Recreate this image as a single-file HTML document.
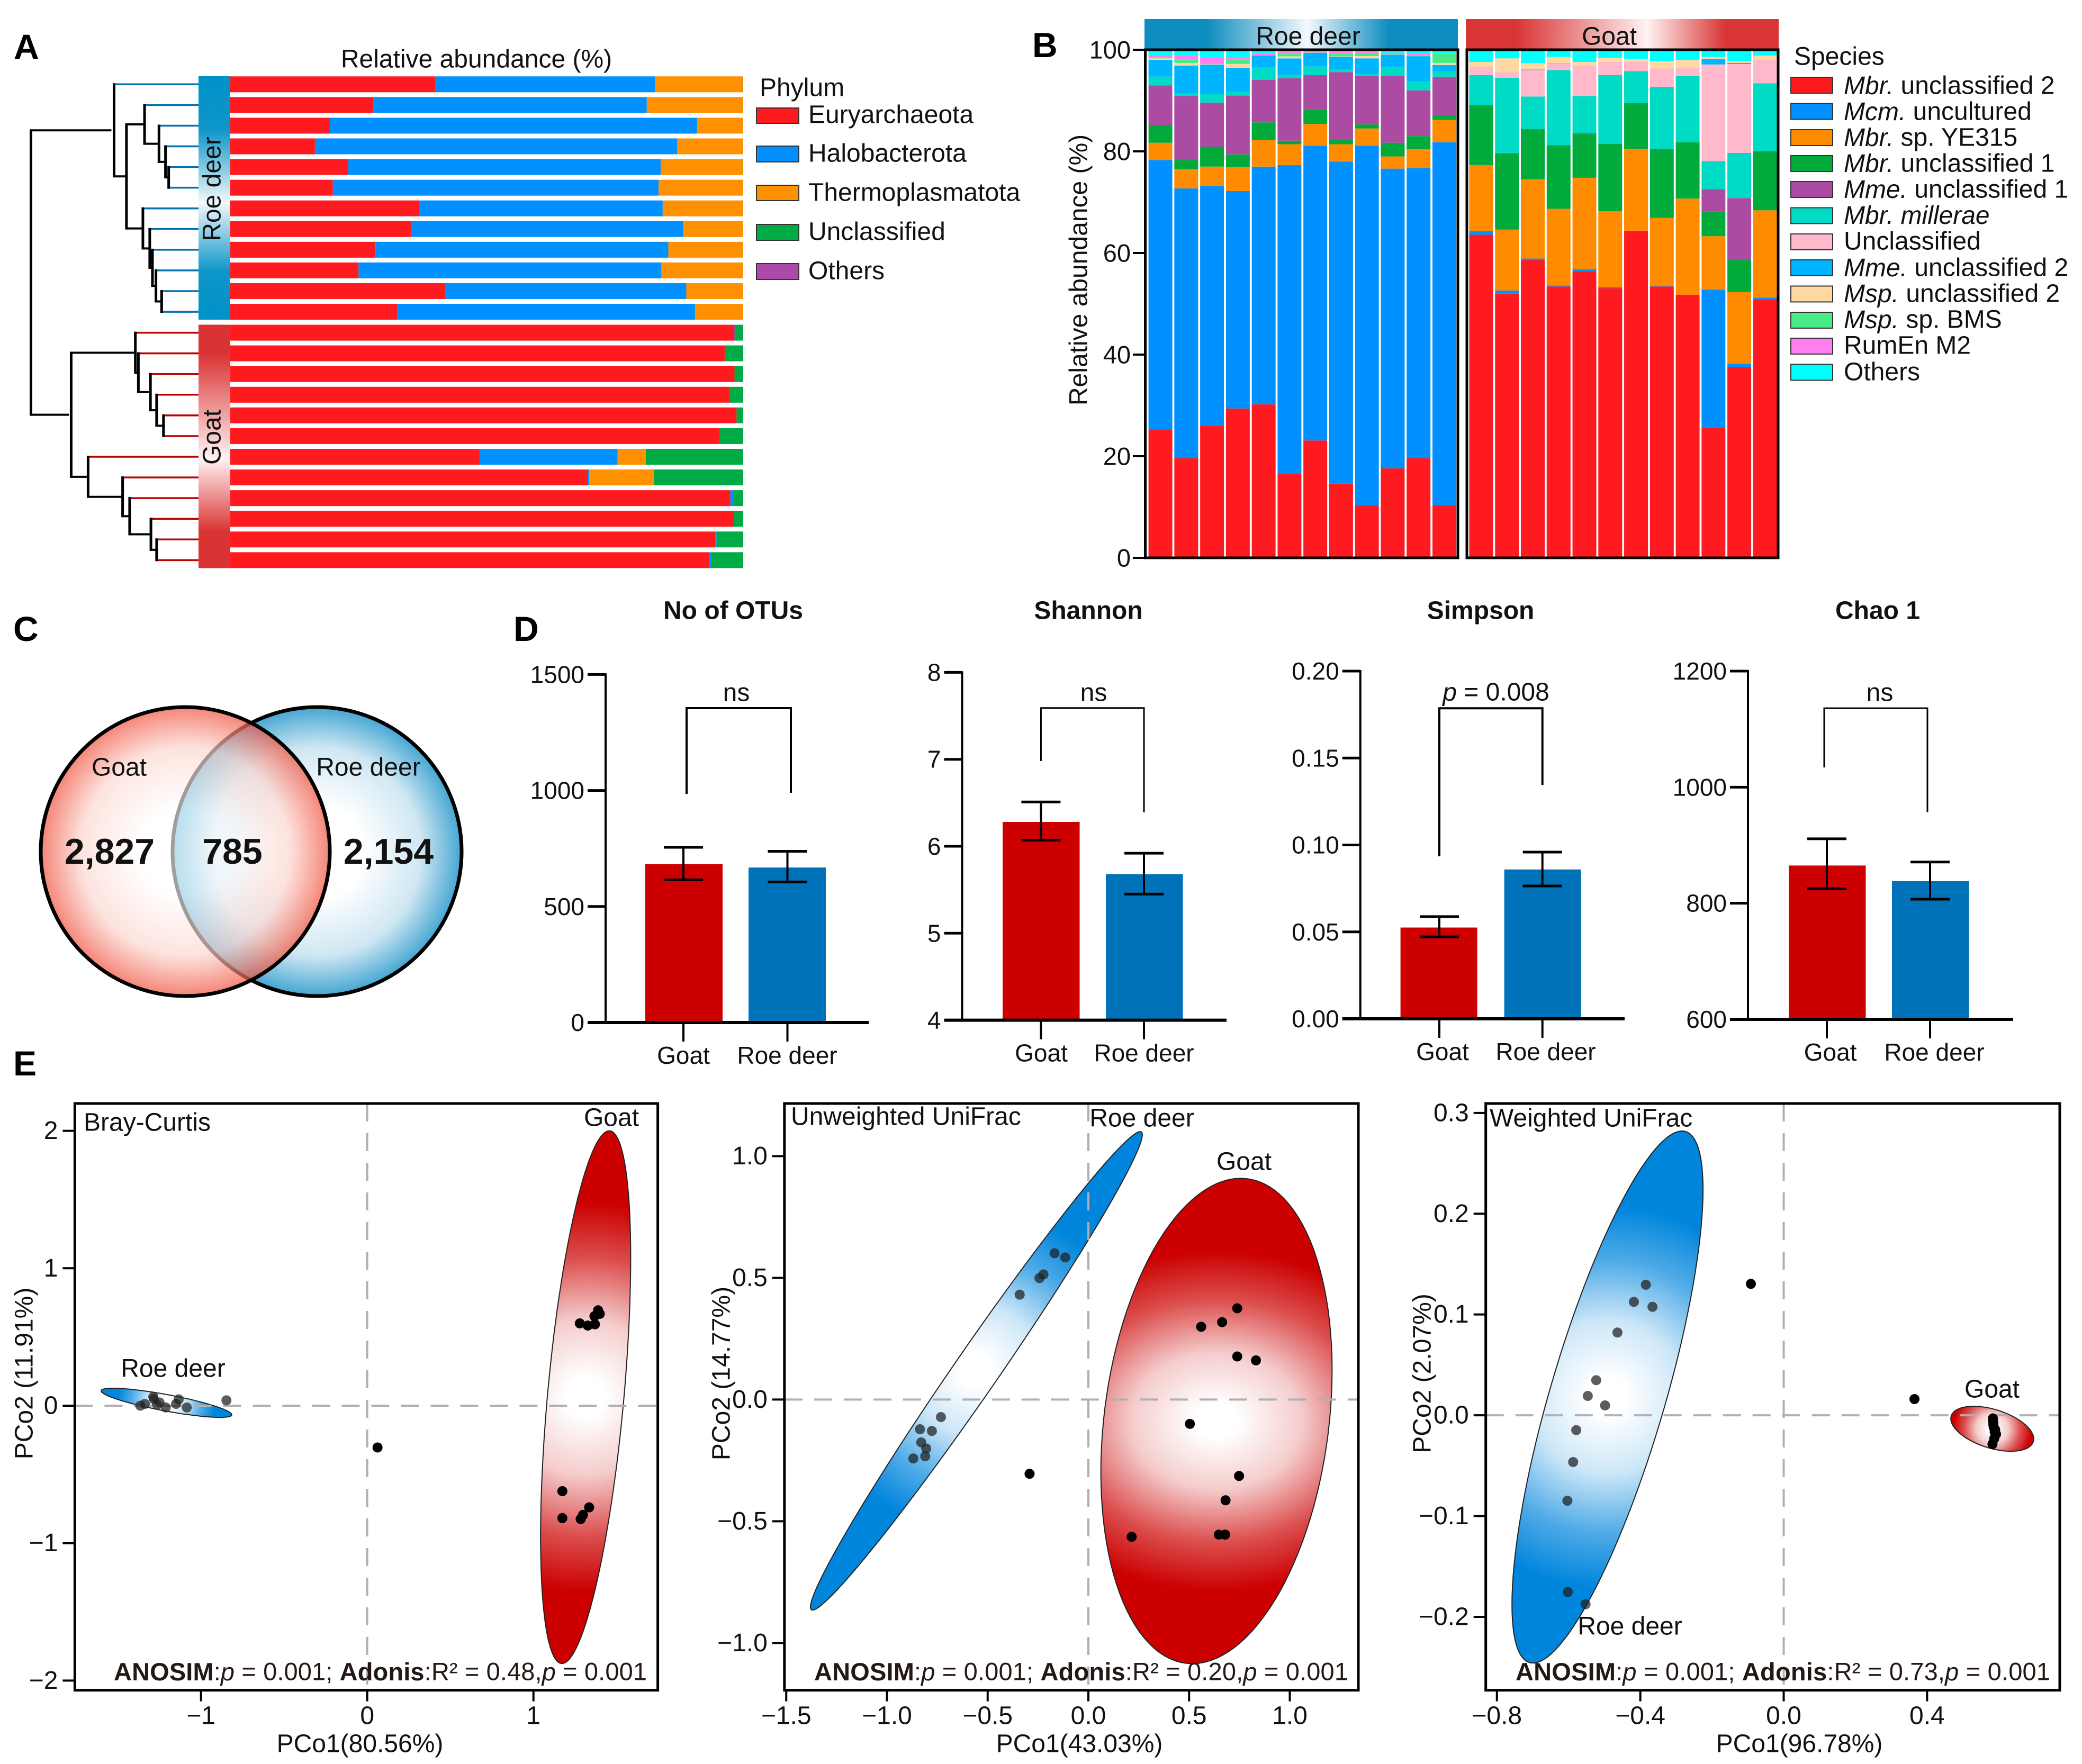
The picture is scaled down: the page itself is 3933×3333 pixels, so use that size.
<!DOCTYPE html>
<html lang="en">
<head>
<meta charset="utf-8">
<title>Archaeal community composition, goat and roe deer</title>
<style>
html,body{margin:0;padding:0;background:#fff;}
svg{display:block;font-family:"Liberation Sans",Arial,sans-serif;}
text{fill:#111;dominant-baseline:central;}
.panel-letter{font-size:66px;font-weight:700;dominant-baseline:auto;fill:#000;}
.t48{font-size:48px;}
.stats{font-size:47px;fill:#231815;}
</style>
</head>
<body>
<svg id="figure" xmlns="http://www.w3.org/2000/svg" width="3933" height="3333" viewBox="0 0 3933 3333">
<defs>
  <linearGradient id="strip-roe" x1="0" y1="0" x2="0" y2="1">
    <stop offset="0" stop-color="#0092C7"/><stop offset=".22" stop-color="#0E96C9"/><stop offset=".52" stop-color="#F2F8FB"/><stop offset=".8" stop-color="#0E96C9"/><stop offset="1" stop-color="#0092C7"/>
  </linearGradient>
  <linearGradient id="strip-goat" x1="0" y1="0" x2="0" y2="1">
    <stop offset="0" stop-color="#DA3333"/><stop offset=".12" stop-color="#DA3333"/><stop offset=".55" stop-color="#FFF3F3"/><stop offset=".85" stop-color="#DA3333"/><stop offset="1" stop-color="#DA3333"/>
  </linearGradient>
  <linearGradient id="head-roe" x1="0" y1="0" x2="1" y2="0">
    <stop offset="0" stop-color="#0E8DC0"/><stop offset=".2" stop-color="#0E8DC0"/><stop offset=".52" stop-color="#F4F9FC"/><stop offset=".78" stop-color="#0E8DC0"/><stop offset="1" stop-color="#0E8DC0"/>
  </linearGradient>
  <linearGradient id="head-goat" x1="0" y1="0" x2="1" y2="0">
    <stop offset="0" stop-color="#DA3535"/><stop offset=".16" stop-color="#DA3535"/><stop offset=".58" stop-color="#FFF2F2"/><stop offset=".83" stop-color="#DA3535"/><stop offset="1" stop-color="#DA3535"/>
  </linearGradient>
  <radialGradient id="venn-left">
    <stop offset="0" stop-color="#fff" stop-opacity=".62"/><stop offset=".3" stop-color="#fff" stop-opacity=".62"/><stop offset=".72" stop-color="#FCD5CE" stop-opacity=".68"/><stop offset="1" stop-color="#F05541" stop-opacity=".72"/>
  </radialGradient>
  <radialGradient id="venn-right">
    <stop offset="0" stop-color="#fff"/><stop offset=".32" stop-color="#fff"/><stop offset=".72" stop-color="#CFE7F3"/><stop offset="1" stop-color="#45A6D3"/>
  </radialGradient>
</defs>

<rect x="0" y="0" width="3933" height="3333" fill="#fff"/>

<!-- Panel letters -->
<text class="panel-letter" x="26" y="111">A</text>
<text class="panel-letter" x="1950" y="108">B</text>
<text class="panel-letter" x="25" y="1211">C</text>
<text class="panel-letter" x="970" y="1211">D</text>
<text class="panel-letter" x="25" y="2032">E</text>

<!-- Panel A static -->
<g id="panel-a">
  <text class="t48" x="900" y="112" text-anchor="middle">Relative abundance (%)</text>
  <rect x="375" y="144" width="60" height="460" fill="url(#strip-roe)"/>
  <rect x="375" y="613.5" width="60" height="460" fill="url(#strip-goat)"/>
  <text class="t48" transform="translate(401 357) rotate(-90)" text-anchor="middle">Roe deer</text>
  <text class="t48" transform="translate(401 826) rotate(-90)" text-anchor="middle">Goat</text>
  <g>
    <text class="t48" x="1435" y="166">Phylum</text>
    <g><rect x="1429" y="204" width="80" height="29" fill="#FF1A1F" stroke="#333" stroke-width="2"/><text class="t48" x="1527" y="217">Euryarchaeota</text></g>
    <g><rect x="1429" y="276" width="80" height="30" fill="#0090FF" stroke="#333" stroke-width="2"/><text class="t48" x="1527" y="290">Halobacterota</text></g>
    <g><rect x="1429" y="350" width="80" height="29" fill="#FF9000" stroke="#333" stroke-width="2"/><text class="t48" x="1527" y="364">Thermoplasmatota</text></g>
    <g><rect x="1429" y="424" width="80" height="30" fill="#00AB45" stroke="#333" stroke-width="2"/><text class="t48" x="1527" y="438">Unclassified</text></g>
    <g><rect x="1429" y="498" width="80" height="30" fill="#AB4BA8" stroke="#333" stroke-width="2"/><text class="t48" x="1527" y="512">Others</text></g>
  </g>
</g>

<!-- Panel B static -->
<g id="panel-b">
  <rect x="2162" y="36" width="592" height="56" fill="url(#head-roe)"/>
  <rect x="2769" y="36" width="591" height="56" fill="url(#head-goat)"/>
  <text class="t48" x="2471" y="69" text-anchor="middle">Roe deer</text>
  <text class="t48" x="3040" y="69" text-anchor="middle">Goat</text>
  <text class="t48" transform="translate(2038 510) rotate(-90)" text-anchor="middle">Relative abundance (%)</text>
  <g>
    <text class="t48" x="3389" y="107">Species</text>
    <g><rect x="3383" y="146" width="79" height="30" fill="#FF1A1F" stroke="#333" stroke-width="2"/><text class="t48" x="3483" y="162"><tspan font-style="italic">Mbr.</tspan> unclassified 2</text></g>
    <g><rect x="3383" y="195.5" width="79" height="30" fill="#0090FF" stroke="#333" stroke-width="2"/><text class="t48" x="3483" y="211"><tspan font-style="italic">Mcm.</tspan> uncultured</text></g>
    <g><rect x="3383" y="245" width="79" height="30" fill="#FF8C00" stroke="#333" stroke-width="2"/><text class="t48" x="3483" y="260"><tspan font-style="italic">Mbr.</tspan> sp. YE315</text></g>
    <g><rect x="3383" y="294" width="79" height="30" fill="#00AB3C" stroke="#333" stroke-width="2"/><text class="t48" x="3483" y="309"><tspan font-style="italic">Mbr.</tspan> unclassified 1</text></g>
    <g><rect x="3383" y="343" width="79" height="30" fill="#AB4BA1" stroke="#333" stroke-width="2"/><text class="t48" x="3483" y="358"><tspan font-style="italic">Mme.</tspan> unclassified 1</text></g>
    <g><rect x="3383" y="392.5" width="79" height="30" fill="#00DBC6" stroke="#333" stroke-width="2"/><text class="t48" x="3483" y="407"><tspan font-style="italic">Mbr. millerae</tspan></text></g>
    <g><rect x="3383" y="442" width="79" height="30" fill="#FFB9CA" stroke="#333" stroke-width="2"/><text class="t48" x="3483" y="456">Unclassified</text></g>
    <g><rect x="3383" y="491" width="79" height="30" fill="#00B5FF" stroke="#333" stroke-width="2"/><text class="t48" x="3483" y="506"><tspan font-style="italic">Mme.</tspan> unclassified 2</text></g>
    <g><rect x="3383" y="540.5" width="79" height="30" fill="#FFD7A0" stroke="#333" stroke-width="2"/><text class="t48" x="3483" y="555"><tspan font-style="italic">Msp.</tspan> unclassified 2</text></g>
    <g><rect x="3383" y="590" width="79" height="30" fill="#47EC86" stroke="#333" stroke-width="2"/><text class="t48" x="3483" y="604"><tspan font-style="italic">Msp.</tspan> sp. BMS</text></g>
    <g><rect x="3383" y="639" width="79" height="30" fill="#FF7FEF" stroke="#333" stroke-width="2"/><text class="t48" x="3483" y="653">RumEn M2</text></g>
    <g><rect x="3383" y="688.5" width="79" height="30" fill="#00FFFF" stroke="#333" stroke-width="2"/><text class="t48" x="3483" y="703">Others</text></g>
  </g>
</g>

<!-- Panel C -->
<g id="panel-c">
  <circle cx="599" cy="1609" r="273" fill="url(#venn-right)" stroke="#000" stroke-width="7"/>
  <circle cx="350" cy="1609" r="273" fill="url(#venn-left)"/>
  <circle cx="350" cy="1609" r="273" fill="none" stroke="#000" stroke-width="7"/>
  <text class="t48" x="225" y="1450" text-anchor="middle" font-size="47">Goat</text>
  <text class="t48" x="696" y="1450" text-anchor="middle" font-size="47">Roe deer</text>
  <text x="207" y="1609" text-anchor="middle" font-size="68" font-weight="700">2,827</text>
  <text x="439" y="1609" text-anchor="middle" font-size="68" font-weight="700">785</text>
  <text x="734" y="1609" text-anchor="middle" font-size="68" font-weight="700">2,154</text>
</g>

<!-- Panel D static -->
<g id="panel-d">
  <text class="t48" x="1385" y="1154" text-anchor="middle" font-weight="700">No of OTUs</text>
  <text class="t48" x="2056" y="1154" text-anchor="middle" font-weight="700">Shannon</text>
  <text class="t48" x="2797" y="1154" text-anchor="middle" font-weight="700">Simpson</text>
  <text class="t48" x="3547" y="1154" text-anchor="middle" font-weight="700">Chao 1</text>
  <text class="t48" x="1391" y="1309" text-anchor="middle">ns</text>
  <text class="t48" x="2066" y="1309" text-anchor="middle">ns</text>
  <text class="t48" x="2826" y="1308" text-anchor="middle"><tspan font-style="italic">p</tspan> = 0.008</text>
  <text class="t48" x="3551" y="1309" text-anchor="middle">ns</text>
</g>

<!-- Panel E static -->
<g id="panel-e"></g>
<g id="panel-e-text">
  <text class="t48" x="158" y="2121">Bray-Curtis</text>
  <text class="t48" x="1155" y="2112" text-anchor="middle">Goat</text>
  <text class="t48" x="327" y="2586" text-anchor="middle">Roe deer</text>
  <text class="stats" x="215" y="3158" textLength="1007"><tspan font-weight="700">ANOSIM</tspan>:<tspan font-style="italic">p</tspan> = 0.001; <tspan font-weight="700">Adonis</tspan>:R² = 0.48,<tspan font-style="italic">p</tspan> = 0.001</text>
  <text class="t48" x="680" y="3295" text-anchor="middle">PCo1(80.56%)</text>
  <text class="t48" transform="translate(46 2595) rotate(-90)" text-anchor="middle">PCo2 (11.91%)</text>

  <text class="t48" x="1494" y="2110">Unweighted UniFrac</text>
  <text class="t48" x="2157" y="2113" text-anchor="middle">Roe deer</text>
  <text class="t48" x="2350" y="2195" text-anchor="middle">Goat</text>
  <text class="stats" x="1538" y="3158" textLength="1009"><tspan font-weight="700">ANOSIM</tspan>:<tspan font-style="italic">p</tspan> = 0.001; <tspan font-weight="700">Adonis</tspan>:R² = 0.20,<tspan font-style="italic">p</tspan> = 0.001</text>
  <text class="t48" x="2039" y="3295" text-anchor="middle">PCo1(43.03%)</text>
  <text class="t48" transform="translate(1363 2595) rotate(-90)" text-anchor="middle">PCo2 (14.77%)</text>

  <text class="t48" x="2814" y="2113">Weighted UniFrac</text>
  <text class="t48" x="3079" y="3073" text-anchor="middle">Roe deer</text>
  <text class="t48" x="3763" y="2625" text-anchor="middle">Goat</text>
  <text class="stats" x="2863" y="3158" textLength="1010"><tspan font-weight="700">ANOSIM</tspan>:<tspan font-style="italic">p</tspan> = 0.001; <tspan font-weight="700">Adonis</tspan>:R² = 0.73,<tspan font-style="italic">p</tspan> = 0.001</text>
  <text class="t48" x="3399" y="3295" text-anchor="middle">PCo1(96.78%)</text>
  <text class="t48" transform="translate(2687 2595) rotate(-90)" text-anchor="middle">PCo2 (2.07%)</text>
</g>
</svg>

<script>
/* ===== Panel A data: percent per sample ===== */
const roeEury   = [40,27.9,19.4,16.5,23,20,36.9,35.2,28.3,25,41.9,32.5];
const roeHalo   = [42.8,53.3,71.6,70.6,60.9,63.5,47.4,53.1,57.1,59,47,58.1];
const roeThermo = [17.1,18.8,9,12.9,16,16.5,15.7,11.7,14.6,16,11.1,9.4];
const roeUncl   = [0.1,0,0,0,0.1,0,0,0,0,0,0,0];
const goatEury   = [98.3,96.4,98.3,97.4,98.7,95.4,48.6,69.7,97.5,98.2,94.6,93.4];
const goatHalo   = [0.3,0,0,0,0,0,26.9,0.3,0.7,0,0.2,0.3];
const goatThermo = [0,0,0,0,0,0,5.5,12.6,0,0,0,0];
const goatUncl   = [1.4,3.6,1.7,2.6,1.3,4.6,19,17.4,1.8,1.8,5.2,6.3];
/* Dendrograms: [distance, child, child]; integers are leaf rows */
const roeTree  = [0.504,0,[0.43,[0.322,1,[0.236,2,[0.197,3,[0.178,4,5]]]],[0.332,6,[0.291,7,[0.275,8,[0.254,9,[0.22,10,11]]]]]]];
const goatTree = [0.76,[0.377,0,[0.359,1,[0.287,2,[0.25,3,[0.209,4,5]]]]],[0.659,6,[0.453,7,[0.411,8,[0.284,9,[0.25,10,11]]]]]];

/* ===== Panel B data: percent per sample, bottom to top ===== */
const stackTicks = ['0','20','40','60','80','100'];
const rMbr2  = [25.2,19.6,26,29.4,30.2,16.5,23.1,14.6,10.4,17.6,19.6,10.4];
const rMcm   = [53.1,53.1,47.2,42.8,46.8,60.8,58,63.4,70.7,59,57.1,71.4];
const rYe315 = [3.4,3.8,3.8,4.7,5.2,4.1,4.3,3.4,3.4,2.4,3.7,4.4];
const rMbr1  = [3.5,1.8,3.9,2.5,3.5,0.7,2.8,0.8,0.8,2.7,2.6,0.9];
const rMme1  = [7.8,12.6,8.7,11.6,8.4,12.3,6.8,13.4,9.6,13.1,9,7.6];
const rMill  = [1.7,0.5,1.7,0.7,2.4,0.7,1.7,0.5,0.3,1.8,1.8,1];
const rUncl  = [0,0,0,0,0,0,0,0,0,0,0,0];
const rMme2  = [3.3,5.5,5.8,4.7,2.35,3.2,2.7,2.5,3.1,2.4,4.9,1.3];
const rMsp2  = [0.3,0.5,0.1,0.8,0,0.4,0,0.1,0.45,0,0,0.4];
const rBms   = [0.05,0.7,0,0.9,0.05,0.5,0.05,0.5,0.65,0.1,0.05,1.8];
const rM2    = [0.4,0.75,1.3,0.5,0.3,0.45,0.15,0.45,0.2,0.3,0.55,0.05];
const rOther = [1.25,1.15,1.5,1.4,0.8,0.35,0.4,0.35,0.4,0.6,0.7,0.75];
const gMbr2  = [63.6,52,58.6,53.4,56.4,53.1,64.4,53.4,51.8,25.7,37.6,50.9];
const gMcm   = [0.7,0.6,0.3,0.2,0.4,0.2,0,0.1,0,27.1,0.6,0.3];
const gYe315 = [13,12,15.6,15.1,18,14.9,16.1,13.4,18.9,10.5,14.1,17.2];
const gMbr1  = [11.8,15,9.9,12.5,8.6,13.3,9,13.6,11.1,4.9,6.3,11.6];
const gMme1  = [0,0.1,0,0,0.2,0,0,0,0,4.3,12.2,0];
const gMill  = [5.9,14.8,6.4,14.8,7.3,13.5,6.3,12.2,13,5.6,8.9,13.4];
const gUncl  = [1.6,1.1,5.2,1.3,6,2.6,1.9,3.6,1.7,19,17.5,4.7];
const gMme2  = [0,0,0.1,0.05,0,0,0,0,0,1.1,0.2,0];
const gMsp2  = [1,2.7,1.3,1.25,0.7,0.8,0.5,1.5,1.5,0.4,0.4,0.75];
const gBms   = [0,0,0,0,0,0,0,0,0,0,0,0];
const gM2    = [0,0,0,0,0,0,0,0,0,0,0,0];
const gOther = [2.4,1.7,2.6,1.4,2.4,1.6,1.8,2.2,2,1.4,2.2,1.15];

/* ===== Panel D data ===== */
const barCategories = ['Goat','Roe deer'];
const otuTicks = ['0','500','1000','1500'];
const otuMeans = [683,668];
const otuHigh  = [755,738];
const otuLow   = [615,606];
const otuBracket = [985,990,1355];
const shannonTicks = ['4','5','6','7','8'];
const shannonMeans = [6.28,5.68];
const shannonHigh  = [6.51,5.92];
const shannonLow   = [6.07,5.45];
const shannonBracket = [6.98,6.39,7.59];
const simpsonTicks = ['0.00','0.05','0.10','0.15','0.20'];
const simpsonMeans = [0.0525,0.0859];
const simpsonHigh  = [0.0588,0.0959];
const simpsonLow   = [0.0471,0.0764];
const simpsonBracket = [0.0935,0.1345,0.1786];
const chaoTicks = ['600','800','1000','1200'];
const chaoMeans = [865,838];
const chaoHigh  = [911,871];
const chaoLow   = [825,807];
const chaoBracket = [1034,957,1136];

/* ===== Panel E data: PCo1, PCo2 scores ===== */
const brayXTicks = [-1,0,1];
const brayYTicks = [-2,-1,0,1,2];
const brayRoeX  = [-1.365,-1.338,-1.287,-1.284,-1.265,-1.249,-1.212,-1.15,-1.134,-1.086,-0.847];
const brayRoeY  = [0,0.013,0.065,0.049,0.007,0.023,-0.013,0.013,0.046,-0.013,0.039];
const brayGoatX = [1.279,1.327,1.37,1.367,1.389,1.399,1.174,1.174,1.335,1.298,1.284,0.062];
const brayGoatY = [0.599,0.583,0.592,0.651,0.694,0.668,-0.622,-0.818,-0.74,-0.795,-0.825,-0.304];
const brayRoeEllipse  = [-1.208,0.021,0.393,0.106,-0.82];
const brayGoatEllipse = [1.314,0.062,0.271,1.938,0.525];

const unwXTicks = [-1.5,-1,-0.5,0,0.5,1];
const unwYTicks = [-1,-0.5,0,0.5,1];
const unwRoeX  = [-0.168,-0.115,-0.223,-0.243,-0.341,-0.732,-0.836,-0.777,-0.83,-0.805,-0.81,-0.869];
const unwRoeY  = [0.601,0.584,0.514,0.499,0.431,-0.072,-0.122,-0.129,-0.176,-0.201,-0.233,-0.242];
const unwGoatX = [0.739,0.664,0.56,0.739,0.832,0.504,0.748,0.681,0.648,0.679,0.215,-0.292];
const unwGoatY = [0.375,0.318,0.299,0.177,0.161,-0.1,-0.314,-0.414,-0.555,-0.555,-0.564,-0.305];
const unwRoeEllipse  = [-0.556,0.118,0.824,0.983,0.987];
const unwGoatEllipse = [0.636,-0.088,0.574,0.997,0.21];

const wXTicks = [-0.8,-0.4,0,0.4];
const wYTicks = [-0.2,-0.1,0,0.1,0.2,0.3];
const wRoeX  = [-0.3845,-0.418,-0.366,-0.4637,-0.523,-0.5465,-0.4983,-0.5787,-0.5873,-0.6034,-0.6022,-0.5527];
const wRoeY  = [0.1295,0.1125,0.1076,0.0821,0.0348,0.0192,0.0098,-0.0147,-0.0464,-0.0848,-0.1754,-0.1875];
const wGoatX = [-0.0915,0.3648,0.5836,0.5836,0.5849,0.5849,0.5861,0.5898,0.5886,0.5923,0.5873,0.5824];
const wGoatY = [0.1304,0.0161,-0.0031,-0.0054,-0.0076,-0.0098,-0.0121,-0.0143,-0.0165,-0.0188,-0.0232,-0.0286];
const wRoeEllipse  = [-0.4915,0.0181,0.2665,0.264,0.78];
const wGoatEllipse = [0.5818,-0.0134,0.1156,0.0223,-0.45];

/* ===== Helpers ===== */
const SVGNS = 'http://www.w3.org/2000/svg';
const root = document.getElementById('figure');
function make(tag, attrs, parent) {
  const n = document.createElementNS(SVGNS, tag);
  for (const k in attrs) n.setAttribute(k, attrs[k]);
  (parent || root).appendChild(n);
  return n;
}
function seg(parent, x1, y1, x2, y2, color, w) {
  return make('line', {x1:x1, y1:y1, x2:x2, y2:y2, stroke:color, 'stroke-width':w}, parent);
}
function label(parent, x, y, str, size, anchor) {
  const t = make('text', {x:x, y:y, 'font-size':size, 'text-anchor':anchor}, parent);
  t.textContent = str;
  return t;
}
function fmtMinus(v, decimals) {
  const s = Math.abs(v).toFixed(decimals);
  return (v < 0 ? '\u2212' : '') + s;
}

/* ===== Panel A: horizontal stacks and dendrogram ===== */
const phylumColors = ['#FF1A1F','#0090FF','#FF9000','#00AB45'];
const panelA = document.getElementById('panel-a');
const xPhylum = v => 435 + v * 9.69;
const rowTopRoe = i => 144.3 + i * 39.07;
const rowTopGoat = i => 613.6 + i * 39.07;
const rowHeight = 30;
function drawPhylum(seriesList, rowTop) {
  seriesList[0].forEach((_, i) => {
    let cum = 0;
    seriesList.forEach((series, s) => {
      const v = series[i];
      if (v <= 0) return;
      const r = make('rect', {x:xPhylum(cum), y:rowTop(i), width:xPhylum(v)-xPhylum(0), height:rowHeight, fill:phylumColors[s]}, panelA);
      
      
      cum += v;
    });
  });
}
drawPhylum([roeEury,roeHalo,roeThermo,roeUncl], rowTopRoe);
drawPhylum([goatEury,goatHalo,goatThermo,goatUncl], rowTopGoat);

const xDend = d => 375 - d * 316.5;
function drawTree(node, rowTop, leafColor) {
  if (typeof node === 'number') return {x:375, y:rowTop(node)+rowHeight/2, leaf:true};
  const a = drawTree(node[1], rowTop, leafColor);
  const b = drawTree(node[2], rowTop, leafColor);
  const x = xDend(node[0]);
  [a,b].forEach(c => {
    const h = seg(panelA, x, c.y, c.x, c.y, c.leaf ? leafColor : '#000', c.leaf ? 3.5 : 4);
    
    
  });
  const v = seg(panelA, x, a.y-2, x, b.y+2, '#000', 5);
  
  
  return {x:x, y:(a.y+b.y)/2, leaf:false};
}
const roeTop = drawTree(roeTree, rowTopRoe, '#0073B0');
const goatTop = drawTree(goatTree, rowTopGoat, '#BE0000');
const rootX = xDend(1);
const rootV = seg(panelA, rootX, roeTop.y-2, rootX, goatTop.y+2, '#000', 5);


const rootH1 = seg(panelA, rootX, roeTop.y, roeTop.x-5, roeTop.y, '#000', 4);


const rootH2 = seg(panelA, rootX, goatTop.y, goatTop.x-4, goatTop.y, '#000', 4);



/* ===== Panel B: vertical stacks ===== */
const speciesColors = ['#FF1A1F','#0090FF','#FF8C00','#00AB3C','#AB4BA1','#00DBC6','#FFB9CA','#00B5FF','#FFD7A0','#47EC86','#FF7FEF','#00FFFF'];
const panelB = document.getElementById('panel-b');
const yStack = v => 1054 - v * 9.6;
function drawStack(seriesList, firstX, barW, step) {
  seriesList[0].forEach((_, i) => {
    let cum = 0;
    seriesList.forEach((series, s) => {
      const v = series[i];
      if (v <= 0) return;
      const r = make('rect', {x:firstX+i*step, y:yStack(cum+v), width:barW, height:yStack(0)-yStack(v), fill:speciesColors[s]}, panelB);
      
      
      cum += v;
    });
  });
}
drawStack([rMbr2,rMcm,rYe315,rMbr1,rMme1,rMill,rUncl,rMme2,rMsp2,rBms,rM2,rOther], 2169.6, 45, 48.76);
drawStack([gMbr2,gMcm,gYe315,gMbr1,gMme1,gMill,gUncl,gMme2,gMsp2,gBms,gM2,gOther], 2775.5, 45, 48.76);
stackTicks.forEach(tl => {
  const v = Number(tl);
  const tk = seg(panelB, 2140, yStack(v), 2163, yStack(v), '#000', 4);
  
  
  const tx = label(panelB, 2136, yStack(v), tl, 47, 'end');
  
  
});
const frameRoe = make('path', {d:'M2163.5 '+yStack(100)+'H2754V1054H2163.5Z', fill:'none', stroke:'#000', 'stroke-width':5}, panelB);


const frameGoat = make('path', {d:'M2771 '+yStack(100)+'H3359V1054H2771Z', fill:'none', stroke:'#000', 'stroke-width':5}, panelB);



/* ===== Panel D: bar charts ===== */
const panelD = document.getElementById('panel-d');
const barColors = ['#CC0000','#0072B9'];
function drawBars(cfg, ticks, means, highs, lows, bracket, nameBase) {
  const min = Number(ticks[0]);
  const max = Number(ticks[ticks.length-1]);
  const y = v => cfg.yBase - (v-min)/(max-min)*(cfg.yBase-cfg.yTop);
  means.forEach((m, i) => {
    const b = make('rect', {x:cfg.barX[i], y:y(m), width:cfg.barW, height:cfg.yBase-y(m), fill:barColors[i]}, panelD);
    
    
    const ex = cfg.errX[i];
    const stem = seg(panelD, ex, y(highs[i]), ex, y(lows[i]), '#000', 4);
    
    
    const capHi = seg(panelD, ex-37, y(highs[i]), ex+37, y(highs[i]), '#000', 5);
    
    
    const capLo = seg(panelD, ex-37, y(lows[i]), ex+37, y(lows[i]), '#000', 5);
    
    
    const xt = seg(panelD, ex, cfg.yBase, ex, cfg.yBase+36, '#000', 4);
    
    
    const xl = label(panelD, cfg.labelX[i], cfg.yBase+62, barCategories[i], 46, 'middle');
    
    
  });
  const yAxis = seg(panelD, cfg.axisX, cfg.yTop-2, cfg.axisX, cfg.yBase, '#000', 4);
  
  
  const xAxis = seg(panelD, cfg.axisX-34, cfg.yBase, cfg.axisEnd, cfg.yBase, '#000', 6);
  
  
  ticks.forEach(tl => {
    const v = Number(tl);
    const tk = seg(panelD, cfg.axisX-34, y(v), cfg.axisX, y(v), '#000', 5);
    
    
    const tx = label(panelD, cfg.axisX-40, y(v), tl, 46, 'end');
    
    
  });
  const br = make('path', {d:'M'+cfg.brX[0]+' '+y(bracket[0])+'V'+y(bracket[2])+'H'+cfg.brX[1]+'V'+y(bracket[1]), fill:'none', stroke:'#000', 'stroke-width':cfg.brW}, panelD);
  
  
}
drawBars({axisX:1144,yTop:1274.4,yBase:1932,axisEnd:1641,barX:[1219,1414],barW:146,errX:[1291,1487.5],labelX:[1291,1487],brX:[1297,1494],brW:4}, otuTicks, otuMeans, otuHigh, otuLow, otuBracket, 'otus');
drawBars({axisX:1817.5,yTop:1270.4,yBase:1927.6,axisEnd:2317,barX:[1894,2089],barW:145.5,errX:[1966.4,2161],labelX:[1967,2161],brX:[1966.4,2161],brW:3}, shannonTicks, shannonMeans, shannonHigh, shannonLow, shannonBracket, 'shannon');
drawBars({axisX:2569.7,yTop:1268,yBase:1925,axisEnd:3069,barX:[2645.6,2841.6],barW:145,errX:[2719,2913.7],labelX:[2725,2920],brX:[2719,2913.7],brW:4}, simpsonTicks, simpsonMeans, simpsonHigh, simpsonLow, simpsonBracket, 'simpson');
drawBars({axisX:3302,yTop:1268,yBase:1926,axisEnd:3803,barX:[3379,3574],barW:145.5,errX:[3451,3646],labelX:[3457.6,3654],brX:[3446,3641],brW:3}, chaoTicks, chaoMeans, chaoHigh, chaoLow, chaoBracket, 'chao');

/* ===== Panel E: PCoA scatter plots ===== */
const panelE = document.getElementById('panel-e');
const defs = root.querySelector('defs');
let gradientCount = 0;
function drawPCoA(cfg, xTicks, yTicks, decimals, roeEllipse, goatEllipse, roeX, roeY, goatX, goatY, nameBase) {
  const sx = v => cfg.x0 + v * cfg.ux;
  const sy = v => cfg.y0 - v * cfg.uy;
  function ellipse(e, color, spread, stretch, partName) {
    const cx = e[0], cy = e[1], ax = e[2], ay = e[3], rho = e[4];
    const phi = Math.acos(rho);
    let d = '';
    for (let k = 0; k < 120; k++) {
      const t = k / 120 * 2 * Math.PI;
      d += (k ? 'L' : 'M') + sx(cx + ax*Math.cos(t)).toFixed(1) + ' ' + sy(cy + ay*Math.cos(t-phi)).toFixed(1);
    }
    d += 'Z';
    const id = 'ellipse-gradient-' + (gradientCount++);
    const pcx = sx(cx), pcy = sy(cy);
    const g = make('radialGradient', {id:id, gradientUnits:'userSpaceOnUse', cx:pcx, cy:pcy, r:spread*Math.max(ax*cfg.ux, ay*cfg.uy), gradientTransform:'translate('+pcx+' '+pcy+') scale('+stretch+' 1) translate('+(-pcx)+' '+(-pcy)+')'}, defs);
    make('stop', {offset:0, 'stop-color':color, 'stop-opacity':0}, g);
    make('stop', {offset:0.1, 'stop-color':color, 'stop-opacity':0}, g);
    make('stop', {offset:0.4, 'stop-color':color, 'stop-opacity':0.2}, g);
    make('stop', {offset:0.72, 'stop-color':color, 'stop-opacity':0.7}, g);
    make('stop', {offset:1, 'stop-color':color, 'stop-opacity':1}, g);
    const p = make('path', {d:d, fill:'url(#'+id+')', stroke:'#222', 'stroke-width':2}, panelE);
    
    
  }
  ellipse(roeEllipse, '#0085DC', cfg.roeSpread, 1, nameBase + '-roe-deer-ellipse');
  ellipse(goatEllipse, '#CC0000', cfg.goatSpread, cfg.goatStretch, nameBase + '-goat-ellipse');

  const dashV = seg(panelE, sx(0), cfg.top, sx(0), cfg.bottom, '#B0B0B0', 4);
  dashV.setAttribute('stroke-dasharray', '34 22');
  
  
  const dashH = seg(panelE, cfg.left, sy(0), cfg.right, sy(0), '#B0B0B0', 4);
  dashH.setAttribute('stroke-dasharray', '34 22');
  
  

  goatX.forEach((v, i) => {
    const c = make('circle', {cx:sx(v), cy:sy(goatY[i]), r:9.5, fill:'#000'}, panelE);
    
    
  });
  roeX.forEach((v, i) => {
    const c = make('circle', {cx:sx(v), cy:sy(roeY[i]), r:9.5, fill:'#1E1E1E', 'fill-opacity':0.72}, panelE);
    
    
  });

  const frame = make('rect', {x:cfg.left, y:cfg.top, width:cfg.right-cfg.left, height:cfg.bottom-cfg.top, fill:'none', stroke:'#000', 'stroke-width':5}, panelE);
  
  

  xTicks.forEach(v => {
    const tk = seg(panelE, sx(v), cfg.bottom, sx(v), cfg.bottom+21, '#000', 4);
    
    
    const tx = label(panelE, sx(v), 3242, fmtMinus(v, decimals), 48, 'middle');
    
    
  });
  yTicks.forEach(v => {
    const tk = seg(panelE, cfg.left-23, sy(v), cfg.left, sy(v), '#000', 4);
    
    
    const tx = label(panelE, cfg.left-32, sy(v), fmtMinus(v, decimals), 48, 'end');
    
    
  });
}
drawPCoA({x0:693.7,ux:314,y0:2656,uy:259.7,left:141.4,right:1242.6,top:2085,bottom:3193.6,roeSpread:0.75,goatSpread:0.73,goatStretch:1}, brayXTicks, brayYTicks, 0, brayRoeEllipse, brayGoatEllipse, brayRoeX, brayRoeY, brayGoatX, brayGoatY, 'bray');
drawPCoA({x0:2056,ux:380.5,y0:2644.4,uy:459.9,left:1481.8,right:2566,top:2085,bottom:3193.6,roeSpread:0.68,goatSpread:0.7,goatStretch:1.25}, unwXTicks, unwYTicks, 1, unwRoeEllipse, unwGoatEllipse, unwRoeX, unwRoeY, unwGoatX, unwGoatY, 'unweighted');
drawPCoA({x0:3369.5,ux:677.2,y0:2674.1,uy:1904.2,left:2806.7,right:3891,top:2085,bottom:3193.6,roeSpread:0.72,goatSpread:0.95,goatStretch:1}, wXTicks, wYTicks, 1, wRoeEllipse, wGoatEllipse, wRoeX, wRoeY, wGoatX, wGoatY, 'weighted');
</script>
</body>
</html>
